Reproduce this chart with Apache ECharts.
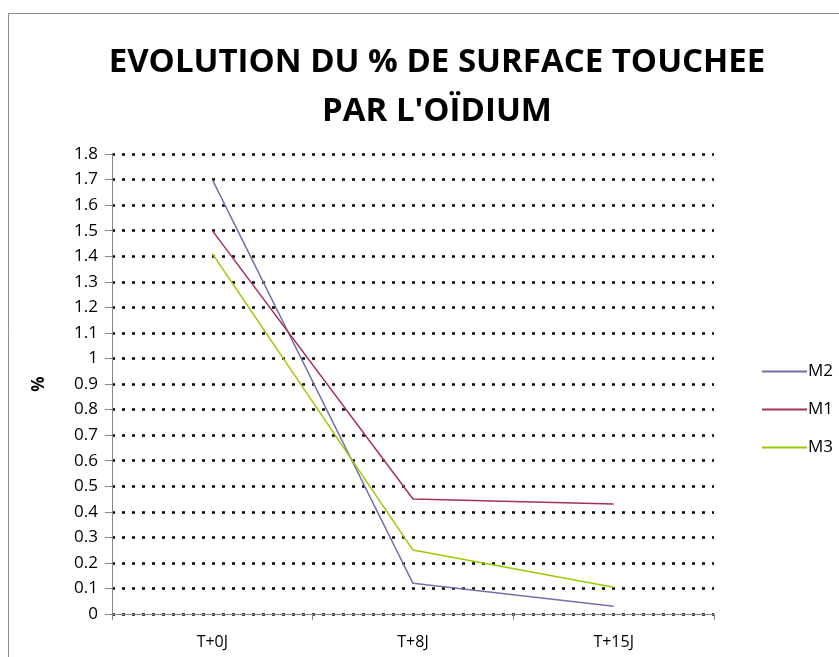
<!DOCTYPE html>
<html>
<head>
<meta charset="utf-8">
<script src="https://cdn.jsdelivr.net/npm/echarts@6/dist/echarts.min.js"></script>
<style>
    html, body { margin: 0; padding: 0; background: #fff; }
    #chart { width: 839px; height: 657px; }
</style>
</head>
<body>
<div id="chart"></div>
<script>
    // données
    var categories = ['T+0J', 'T+8J', 'T+15J'];
    var m2 = [1.7, 0.12, 0.03];
    var m1 = [1.5, 0.45, 0.43];
    var m3 = [1.41, 0.25, 0.105];
    var seriesNames = ['M2', 'M1', 'M3'];
    var colors = ['#7470b0', '#a3305f', '#99cc00'];

    var font = '"Open Sans", "Liberation Sans", sans-serif';

    var option = {
        animation: false,
        textStyle: { fontFamily: font },
        title: {
            text: 'EVOLUTION DU % DE SURFACE TOUCHEE\nPAR L\'OÏDIUM',
            left: 432,
            textAlign: 'center',
            top: 33,
            textStyle: {
                fontFamily: font,
                fontSize: 33,
                fontWeight: 'bold',
                color: '#000',
                lineHeight: 49
            }
        },
        legend: {
            orient: 'vertical',
            left: 757,
            top: 358,
            itemWidth: 45,
            itemHeight: 2,
            itemGap: 21,
            icon: 'rect',
            textStyle: { fontSize: 17, color: '#000', fontFamily: font, padding: [0, 0, 0, -4] },
            data: seriesNames
        },
        grid: { left: 112, right: 125, top: 154, bottom: 43 },
        xAxis: {
            type: 'category',
            data: categories,
            boundaryGap: true,
            axisLine: { lineStyle: { color: '#868686', width: 1 } },
            axisTick: { show: true, alignWithLabel: false, length: 6, lineStyle: { color: '#868686' } },
            axisLabel: { color: '#000', fontSize: 16, margin: 20 }
        },
        yAxis: {
            type: 'value',
            min: 0,
            max: 1.8,
            interval: 0.1,
            name: '%',
            nameLocation: 'middle',
            nameGap: 64,
            nameRotate: 90,
            nameTextStyle: { fontSize: 17, fontWeight: 'bold', color: '#000' },
            axisLine: { show: true, lineStyle: { color: '#868686' } },
            axisTick: { show: true, length: 7, lineStyle: { color: '#868686' } },
            axisLabel: {
                color: '#000',
                fontSize: 17,
                margin: 14,
                formatter: function (v) { return String(Math.round(v * 10) / 10); }
            },
            splitLine: {
                show: true,
                lineStyle: { color: '#000', width: 2.5, type: [3, 7] }
            }
        },
        series: [
            { name: 'M2', type: 'line', data: m2, symbol: 'none', lineStyle: { width: 1.5 } },
            { name: 'M1', type: 'line', data: m1, symbol: 'none', lineStyle: { width: 1.5 } },
            { name: 'M3', type: 'line', data: m3, symbol: 'none', lineStyle: { width: 1.5 } }
        ],
        color: colors,
        graphic: [{
            type: 'rect',
            shape: { x: 8.5, y: 13.5, width: 840, height: 660 },
            style: { fill: null, stroke: '#8c8c8c', lineWidth: 1 },
            silent: true
        }]
    };

    var myChart = echarts.init(document.getElementById('chart'));
    myChart.setOption(option);
</script>
</body>
</html>
